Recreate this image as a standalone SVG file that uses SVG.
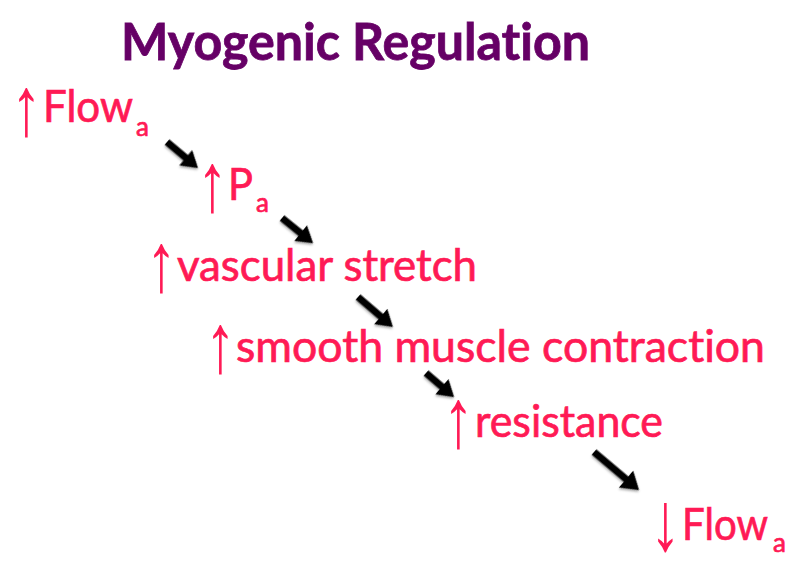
<svg xmlns="http://www.w3.org/2000/svg" width="798" height="575" viewBox="0 0 798 575">
<style>
text{font-variant-ligatures:none}
.title{font-family:Lato,"Liberation Sans",sans-serif;font-weight:bold;font-size:52px;fill:#660066;stroke:#660066;stroke-width:0.8px}
.lbl{font-family:Lato,"Open Sans",sans-serif;font-size:44px;fill:#FF1A55;stroke:#FF1A55;stroke-width:0.7px}
.ar{font-family:"Liberation Sans",sans-serif;font-size:44px;fill:#FF1A55}
.sub{font-size:26px}
.arr{fill:#000;filter:url(#sh)}
</style>
<defs>
<filter id="sh" x="-30%" y="-30%" width="160%" height="160%">
<feDropShadow dx="1" dy="1.5" stdDeviation="1.2" flood-color="#000" flood-opacity="0.35"/>
</filter>
</defs>
<rect width="798" height="575" fill="#fff"/>
<text class="title" x="121" y="60" textLength="469" lengthAdjust="spacingAndGlyphs">Myogenic Regulation</text>
<g id="n1">
<text class="ar" transform="translate(11,135) scale(1.4,1.9)">↑</text>
<text class="lbl" x="43" y="122" textLength="90" lengthAdjust="spacingAndGlyphs">Flow</text>
<text class="lbl sub" x="136" y="136">a</text>
</g>
<g id="n2">
<text class="ar" transform="translate(197,211) scale(1.4,1.9)">↑</text>
<text class="lbl" x="228" y="200" textLength="25" lengthAdjust="spacingAndGlyphs">P</text>
<text class="lbl sub" x="256" y="212">a</text>
</g>
<g id="n3">
<text class="ar" transform="translate(146,291) scale(1.4,1.9)">↑</text>
<text class="lbl" x="177" y="281" textLength="300" lengthAdjust="spacingAndGlyphs">vascular stretch</text>
</g>
<g id="n4">
<text class="ar" transform="translate(205,372) scale(1.4,1.9)">↑</text>
<text class="lbl" x="236" y="362" textLength="529" lengthAdjust="spacingAndGlyphs">smooth muscle contraction</text>
</g>
<g id="n5">
<text class="ar" transform="translate(443,447) scale(1.4,1.9)">↑</text>
<text class="lbl" x="475" y="437" textLength="188" lengthAdjust="spacingAndGlyphs">resistance</text>
</g>
<g id="n6">
<text class="ar" transform="translate(650,550) scale(1.4,1.9)">↓</text>
<text class="lbl" x="682" y="540" textLength="86" lengthAdjust="spacingAndGlyphs">Flow</text>
<text class="lbl sub" x="773" y="552">a</text>
</g>
<g id="connectors">
<path class="arr" transform="translate(167,142) rotate(40)" d="M0,-3.5 H24.5 V-10 L40.5,0 L24.5,10 V3.5 H0Z"/>
<path class="arr" transform="translate(282,218) rotate(39)" d="M0,-3.5 H24 V-10 L40,0 L24,10 V3.5 H0Z"/>
<path class="arr" transform="translate(358,297) rotate(40.6)" d="M0,-3.5 H30 V-10 L46,0 L30,10 V3.5 H0Z"/>
<path class="arr" transform="translate(426,373) rotate(40.6)" d="M0,-3.5 H21 V-10 L37,0 L21,10 V3.5 H0Z"/>
<path class="arr" transform="translate(594,452) rotate(40.2)" d="M0,-3.5 H42 V-11 L59,0 L42,11 V3.5 H0Z"/>
</g>
</svg>
